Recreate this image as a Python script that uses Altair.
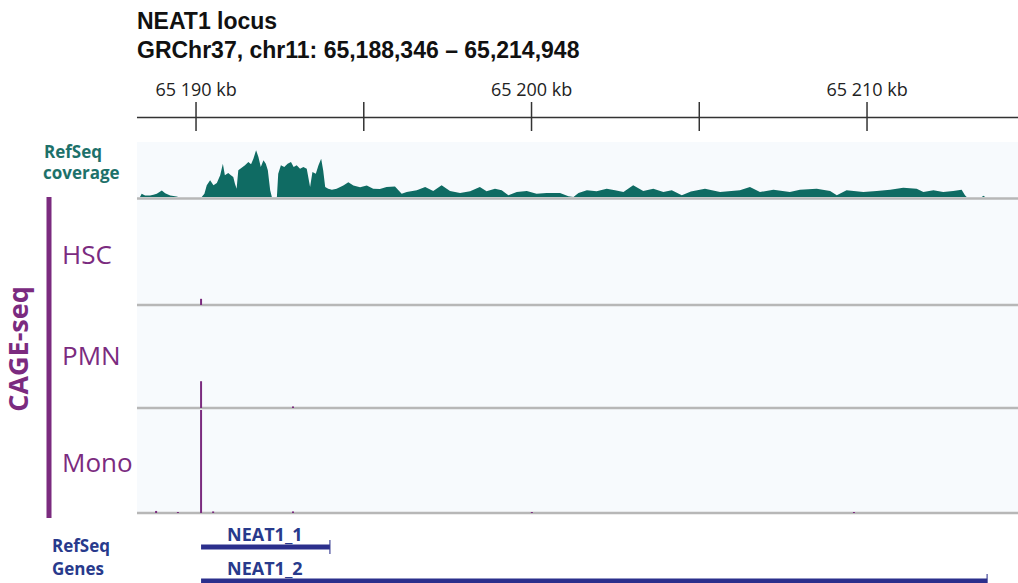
import altair as alt
import pandas as pd

# ---- genomic window (kb on chr11) ----
VIEW_START = 65188.33
VIEW_END = 65214.50
TICKS_KB = [65190, 65195, 65200, 65205, 65210]
TICK_LABELS = ["65 190 kb", "", "65 200 kb", "", "65 210 kb"]

# ---- RefSeq coverage profile ----
COV_KB = [
    65188.33, 65188.38, 65188.48, 65188.63, 65188.73, 65188.83, 65188.98, 65189.08,
    65189.23, 65189.42, 65189.47, 65190.17, 65190.25, 65190.32, 65190.42, 65190.52,
    65190.62, 65190.72, 65190.80, 65190.86, 65190.96, 65191.04, 65191.11, 65191.16,
    65191.21, 65191.26, 65191.36, 65191.46, 65191.56, 65191.64, 65191.71, 65191.79,
    65191.86, 65191.93, 65192.01, 65192.08, 65192.14, 65192.21, 65192.26, 65192.41,
    65192.45, 65192.53, 65192.63, 65192.73, 65192.83, 65192.91, 65193.00, 65193.10,
    65193.20, 65193.30, 65193.40, 65193.47, 65193.57, 65193.65, 65193.73, 65193.79,
    65193.85, 65193.94, 65194.05, 65194.19, 65194.39, 65194.54, 65194.69,
    65194.89, 65195.09, 65195.28, 65195.48, 65195.68, 65195.93, 65196.13, 65196.28,
    65196.58, 65196.83, 65197.07, 65197.32, 65197.57, 65197.87, 65198.17, 65198.46,
    65198.66, 65198.91, 65199.11, 65199.31, 65199.56, 65199.86, 65200.15, 65200.45,
    65200.85, 65201.10, 65201.25, 65201.40, 65201.65, 65201.94, 65202.24, 65202.49,
    65202.74, 65203.03, 65203.33, 65203.63, 65203.93, 65204.18, 65204.48, 65204.75,
    65205.17, 65205.62, 65206.21, 65206.51, 65206.81, 65207.21, 65207.70, 65208.00,
    65208.50, 65208.90, 65209.10, 65209.39, 65209.89, 65210.29, 65210.69, 65211.08,
    65211.48, 65211.68, 65211.98, 65212.27, 65212.57, 65212.82, 65212.92, 65212.97,
    65213.42, 65213.47, 65213.52, 65214.50,
]
COV_DEPTH = [
    0.0, 3.2, 1.5, 1.5, 2.2, 3.2, 6.5, 3.8,
    1.5, 0.5, 0.0, 0.0, 3.3, 11.7, 16.7, 11.7,
    14.0, 21.7, 33.3, 21.7, 24.0, 21.7, 20.0, 13.3,
    8.3, 26.7, 29.3, 31.7, 35.0, 32.7, 38.3, 46.7,
    40.0, 30.0, 36.7, 33.3, 26.7, 6.7, 0.0, 0.0,
    23.3, 31.7, 30.0, 33.3, 35.0, 30.0, 31.7, 28.3,
    30.0, 28.3, 10.0, 25.0, 23.3, 31.7, 38.3, 26.7,
    10.0, 8.3, 7.2, 8.2, 11.5, 14.8, 11.5,
    9.8, 11.5, 8.2, 8.0, 10.0, 10.5, 3.3, 5.0,
    6.7, 10.0, 6.0, 11.7, 6.0, 4.0, 5.7, 10.0,
    5.7, 8.3, 6.7, 1.7, 5.0, 6.0, 3.3, 4.0,
    4.0, 0.7, 0.0, 4.0, 6.7, 5.7, 8.3, 6.7,
    5.0, 11.7, 6.0, 8.3, 5.0, 6.7, 1.7, 5.5,
    8.3, 5.0, 6.7, 10.0, 5.0, 7.3, 5.0, 7.3,
    8.3, 6.0, 1.7, 6.7, 5.0, 6.0, 7.3, 9.3,
    8.3, 5.0, 6.7, 5.0, 6.0, 7.3, 1.7, 0.0,
    0.0, 1.3, 0.0, 0.0,
]

# ---- CAGE-seq tag counts per cell type ----
TRACKS = ["HSC", "PMN", "Mono"]
CAGE_SAMPLE = ["HSC", "PMN", "PMN", "Mono", "Mono", "Mono", "Mono", "Mono", "Mono", "Mono"]
CAGE_KB = [65190.15, 65190.15, 65192.89, 65190.15, 65188.81, 65189.46, 65190.51,
           65192.89, 65200.01, 65209.61]
CAGE_COUNT = [6, 26, 1.5, 100, 2, 1, 1.5, 1.5, 1, 1]

# ---- RefSeq gene models ----
GENES = ["NEAT1_1", "NEAT1_2"]
GENE_START = [65190.15, 65190.15]
GENE_END = [65193.99, 65213.58]

TEAL = "#0f6b63"
TEAL_TEXT = "#1d716a"
PURPLE = "#7b2b7f"
NAVY = "#2b2f8c"
NAVY_TEXT = "#283a8c"
GRID_GREY = "#b7b7b7"
TRACK_BG = "#f7fafd"
FONT = "Open Sans"

x_scale = alt.Scale(domain=[VIEW_START, VIEW_END], nice=False, zero=False)
X = lambda f: alt.X(f, type="quantitative", scale=x_scale, axis=None)

cov = pd.DataFrame({"kb": COV_KB, "depth": COV_DEPTH})
cage = pd.DataFrame({"sample": CAGE_SAMPLE, "kb": CAGE_KB, "count": CAGE_COUNT})
genes = pd.DataFrame({"gene": GENES, "start": GENE_START, "end": GENE_END})
ticks = pd.DataFrame({"kb": TICKS_KB, "label": TICK_LABELS})
span = pd.DataFrame({"start": [65188.24], "end": [VIEW_END]})


def label(text, x, y, size, color, weight="normal", font=FONT, **kw):
    return alt.Chart(pd.DataFrame({"t": [text]})).mark_text(
        font=font, fontSize=size, color=color, fontWeight=weight,
        align=kw.pop("align", "left"), baseline=kw.pop("baseline", "alphabetic"), **kw
    ).encode(x=alt.value(x), y=alt.value(y), text="t:N")


# track backgrounds
bg = alt.Chart(span).mark_rect(color=TRACK_BG).encode(
    x=X("start"), x2="end", y=alt.value(142), y2=alt.value(514)
)

# ruler: line, ticks and labels
ruler_line = alt.Chart(span).mark_rule(color="#333333", strokeWidth=1.5).encode(
    x=X("start"), x2="end", y=alt.value(117.5)
)
ruler_ticks = alt.Chart(ticks).mark_rule(color="#333333", strokeWidth=1.5).encode(
    x=X("kb"), y=alt.value(102), y2=alt.value(131)
)
ruler_labels = alt.Chart(ticks).mark_text(
    font=FONT, fontSize=18, color="#222222", baseline="alphabetic"
).encode(x=X("kb"), y=alt.value(96), text="label:N")

# coverage area
cov_area = alt.Chart(cov).mark_area(color=TEAL, interpolate="linear").encode(
    x=X("kb"),
    y=alt.Y("depth:Q", scale=alt.Scale(domain=[0, 57], range=[197, 140]), axis=None),
)

# baselines under each track
baselines = [
    alt.Chart(span).mark_rule(color=GRID_GREY, strokeWidth=2.5).encode(
        x=X("start"), x2="end", y=alt.value(yb)
    )
    for yb in (198.5, 305, 408, 513)
]

# CAGE-seq spikes, one y scale per track
track_base = {"HSC": 305, "PMN": 408, "Mono": 513}
cage_layers = [
    alt.Chart(cage).transform_filter(alt.datum.sample == name).mark_rule(
        color=PURPLE, strokeWidth=2
    ).encode(
        x=X("kb"),
        y=alt.Y("count:Q", scale=alt.Scale(domain=[0, 100], range=[track_base[name], track_base[name] - 103]), axis=None),
        y2=alt.datum(0),
    )
    for name in TRACKS
]

# gene models
gene_y = alt.Y("gene:N", scale=alt.Scale(type="point", domain=GENES, range=[547, 581], padding=0), axis=None)
gene_bars = alt.Chart(genes).mark_rule(color=NAVY, strokeWidth=5).encode(
    x=X("start"), x2="end", y=gene_y
)
gene_ends = alt.Chart(genes).mark_tick(color=NAVY, orient="vertical", size=14, thickness=1.5).encode(
    x=X("end"), y=gene_y
)
gene_names = alt.Chart(genes).mark_text(
    font=FONT, fontSize=18, fontWeight="bold", color=NAVY_TEXT, align="left",
    baseline="alphabetic", dx=26, dy=-6
).encode(x=X("start"), y=gene_y, text="gene:N")

# left-hand track labels
left = [
    label("RefSeq", -96, 158, 17, TEAL_TEXT, "bold"),
    label("coverage", -97, 179, 17, TEAL_TEXT, "bold"),
    label("HSC", -78, 264, 26, PURPLE),
    label("PMN", -78, 365, 26, PURPLE),
    label("Mono", -78, 472, 26, PURPLE),
    label("CAGE-seq", -112, 349, 27, PURPLE, "bold", align="center", angle=270),
    label("RefSeq", -88, 552, 17, NAVY_TEXT, "bold"),
    label("Genes", -88, 575, 17, NAVY_TEXT, "bold"),
    label("NEAT1 locus", -3, 29, 23, "#111111", "bold", font="Liberation Sans"),
    label("GRChr37, chr11: 65,188,346 \u2013 65,214,948", -3, 58, 23, "#111111", "bold",
          font="Liberation Sans"),
]
cage_bar = alt.Chart(span).mark_rule(color=PURPLE, strokeWidth=5).encode(
    x=alt.value(-91), y=alt.value(197), y2=alt.value(518)
)

chart = (
    alt.layer(
        bg, ruler_line, ruler_ticks, ruler_labels, cov_area, *baselines,
        *cage_layers, gene_bars, gene_ends, gene_names, cage_bar, *left
    )
    .resolve_scale(y="independent")
    .properties(
        width=878, height=583, autosize="none",
        padding={"left": 140, "top": 0, "right": 0, "bottom": 0},
    )
    .configure_view(stroke=None)
)

chart.save("out.html", embed_options={"renderer": "svg", "actions": False})
